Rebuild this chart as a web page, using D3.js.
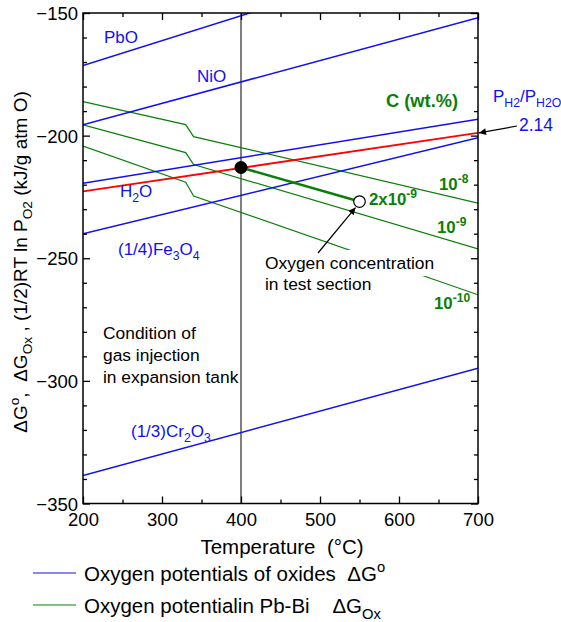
<!DOCTYPE html>
<html>
<head>
<meta charset="utf-8">
<script src="https://cdn.jsdelivr.net/npm/d3@7"></script>
<style>
  body { margin: 0; background: #fff; }
  svg { font-family: "Liberation Sans", Arial, Helvetica, sans-serif; }
  text { white-space: pre; }
</style>
</head>
<body>
<svg width="561" height="622"></svg>
<script>
// ---- data ----
const oxideNames = ["PbO", "NiO", "H2O", "(1/4)Fe3O4", "(1/3)Cr2O3"]
const oxideTemps = [200, 700]
const oxideAt200 = [-171.4, -195.6, -219.4, -240.0, -338.6]
const oxideAt700 = [-120.7, -151.9, -193.3, -200.9, -294.8]

// H2/H2O = 2.14 line
const ratioLine = [[200, -222.7], [700, -198.9]]

// oxygen potential in Pb-Bi, one line per concentration
const concLabels = ["10-8", "10-9", "10-10"]
const concTemps = [200, 330, 340, 700]
const conc8 = [-186.1, -195.5, -200.4, -227.5]
const conc9 = [-195.6, -206.9, -211.8, -246.2]
const conc10 = [-204.3, -219.0, -224.6, -264.9]

// gas injection point and test section point
const injection = [400, -213.0]
const testSection = [550, -226.9]

const xTicks = [200, 300, 400, 500, 600, 700]
const yTicks = [-350, -300, -250, -200, -150]

const svg = d3.select("svg")

const x = d3.scaleLinear().domain([200, 700]).range([83, 478])
const y = d3.scaleLinear().domain([-350, -150]).range([503.5, 13])

const blue = "#1010f0"
const green = "#0a800a"
const red = "#ff0000"
const font = "Liberation Sans, Arial, sans-serif"

// arrow head
svg.append("defs").append("marker")
  .attr("id", "arr")
  .attr("viewBox", "0 0 10 10")
  .attr("refX", 10).attr("refY", 5)
  .attr("markerWidth", 11).attr("markerHeight", 7)
  .attr("markerUnits", "userSpaceOnUse")
  .attr("orient", "auto")
  .append("path").attr("d", "M0,0 L10,5 L0,10 z").attr("fill", "#000")

svg.select("defs").append("clipPath").attr("id", "plot")
  .append("rect")
  .attr("x", x(200)).attr("y", y(-150))
  .attr("width", x(700) - x(200)).attr("height", y(-350) - y(-150))

// rich text helper: parts = [[text, "sup" | "sub" | ""], ...]
function rich(parent, px, py, parts, size, attrs) {
  const t = parent.append("text").attr("x", px).attr("y", py).attr("font-size", size)
  Object.entries(attrs || {}).forEach(([k, v]) => t.attr(k, v))
  let shift = 0
  parts.forEach(([s, mode]) => {
    let target = 0
    if (mode === "sup") target = -0.42 * size
    if (mode === "sub") target = 0.28 * size
    const ts = t.append("tspan").text(s).attr("dy", target - shift)
    if (mode) ts.attr("font-size", size * 0.72)
    shift = target
  })
  return t
}

const plot = svg.append("g").attr("clip-path", "url(#plot)")
const line = d3.line().x(d => x(d[0])).y(d => y(d[1]))

// vertical line at 400 C
plot.append("line")
  .attr("x1", x(400)).attr("x2", x(400))
  .attr("y1", y(-150)).attr("y2", y(-350))
  .attr("stroke", "#000").attr("stroke-width", 1)

// green concentration lines
const concSeries = [conc8, conc9, conc10].map(vals => vals.map((v, i) => [concTemps[i], v]))
plot.selectAll("path.conc")
  .data(concSeries)
  .enter()
  .append("path")
  .attr("class", "conc")
  .attr("d", line)
  .attr("fill", "none")
  .attr("stroke", green)
  .attr("stroke-width", 1.2)

// blue oxide lines
const oxideSeries = oxideNames.map((n, i) => [[oxideTemps[0], oxideAt200[i]], [oxideTemps[1], oxideAt700[i]]])
plot.selectAll("path.oxide")
  .data(oxideSeries)
  .enter()
  .append("path")
  .attr("class", "oxide")
  .attr("d", line)
  .attr("fill", "none")
  .attr("stroke", blue)
  .attr("stroke-width", 1.5)

// red H2/H2O line
plot.append("path")
  .attr("d", line(ratioLine))
  .attr("fill", "none")
  .attr("stroke", red)
  .attr("stroke-width", 1.8)

// thick segment from injection to test section
plot.append("path")
  .attr("d", line([injection, testSection]))
  .attr("fill", "none")
  .attr("stroke", green)
  .attr("stroke-width", 2.6)

svg.append("circle")
  .attr("cx", x(injection[0])).attr("cy", y(injection[1]))
  .attr("r", 6.5).attr("fill", "#000")

svg.append("circle")
  .attr("cx", x(testSection[0])).attr("cy", y(testSection[1]))
  .attr("r", 5.8).attr("fill", "#fff").attr("stroke", "#000").attr("stroke-width", 1.2)

// ---- axes ----
const axG = svg.append("g")
function ticks(makeAxis, pos, major, minor, labels) {
  const g = axG.append("g").attr("transform", pos)
    .call(makeAxis().tickValues(minor).tickSize(-4).tickFormat(""))
  g.select(".domain").remove()
  const g2 = axG.append("g").attr("transform", pos)
    .call(makeAxis().tickValues(major).tickSize(-7).tickFormat(labels ? d3.format("d") : ""))
  g2.select(".domain").remove()
  g.selectAll("line").attr("stroke-width", 1.3)
  g2.selectAll("line").attr("stroke-width", 1.3)
  g2.attr("font-family", font).attr("font-size", 18.5)
  g2.selectAll("text").attr("fill", "#000")
  return g2
}
const xMinor = d3.range(250, 700, 100)
const yMinor = d3.range(-340, -150, 10).filter(v => v % 50 !== 0)

const gb = ticks(() => d3.axisBottom(x), `translate(0,${y(-350)})`, xTicks, xMinor, true)
gb.selectAll("text").attr("dy", 0).attr("y", 22)
ticks(() => d3.axisTop(x), `translate(0,${y(-150)})`, xTicks, xMinor, false)
const gl = ticks(() => d3.axisLeft(y), `translate(${x(200)},0)`, yTicks, yMinor, true)
gl.selectAll("text").attr("x", -5).attr("dy", "0.36em")
ticks(() => d3.axisRight(y), `translate(${x(700)},0)`, yTicks, yMinor, false)

svg.append("rect")
  .attr("x", x(200)).attr("y", y(-150))
  .attr("width", x(700) - x(200)).attr("height", y(-350) - y(-150))
  .attr("fill", "none").attr("stroke", "#000").attr("stroke-width", 1.5)

// axis titles
svg.append("text")
  .attr("x", 282).attr("y", 554)
  .attr("text-anchor", "middle").attr("font-size", 20.5)
  .text("Temperature  (°C)")

const yl = svg.append("g").attr("transform", "translate(27,262) rotate(-90)")
rich(yl, 0, 0, [["ΔG", ""], ["o", "sup"], [",  ΔG", ""], ["Ox", "sub"], [" , (1/2)RT ln P", ""], ["O2", "sub"], [" (kJ/g atm O)", ""]], 19, { "text-anchor": "middle" })

// ---- labels inside plot ----
const lb = svg.append("g").attr("fill", blue)
rich(lb, 104, 43, [["PbO", ""]], 17)
rich(lb, 197, 82, [["NiO", ""]], 17)
rich(lb, 120, 197, [["H", ""], ["2", "sub"], ["O", ""]], 17)
rich(lb, 118, 255, [["(1/4)Fe", ""], ["3", "sub"], ["O", ""], ["4", "sub"]], 17)
rich(lb, 131, 437, [["(1/3)Cr", ""], ["2", "sub"], ["O", ""], ["3", "sub"]], 17)
rich(lb, 493, 102, [["P", ""], ["H2", "sub"], ["/P", ""], ["H2O", "sub"]], 17)
rich(lb, 519, 131, [["2.14", ""]], 17.5)

const lg = svg.append("g").attr("fill", green).attr("font-weight", "bold")
rich(lg, 386, 107, [["C (wt.%)", ""]], 18.3)
rich(lg, 439, 190, [["10", ""], ["-8", "sup"]], 16.8)
rich(lg, 369, 205, [["2x10", ""], ["-9", "sup"]], 16.8)
rich(lg, 437, 233, [["10", ""], ["-9", "sup"]], 16.8)
rich(lg, 434, 309, [["10", ""], ["-10", "sup"]], 16.8)

// black notes
const note = svg.append("g").attr("fill", "#000").attr("font-size", 17.4)
const oc = note.append("text").attr("x", 265).attr("y", 269).text("Oxygen concentration")
const bb = oc.node().getBBox()
note.insert("rect", "text")
  .attr("x", bb.x - 2).attr("y", bb.y - 3)
  .attr("width", bb.width + 4).attr("height", bb.height + 6)
  .attr("fill", "#fff")
note.append("text").attr("x", 265).attr("y", 290).text("in test section")
note.append("text").attr("x", 103).attr("y", 339).text("Condition of")
note.append("text").attr("x", 103).attr("y", 361).text("gas injection")
note.append("text").attr("x", 103).attr("y", 383).text("in expansion tank")

// arrows
svg.append("line")
  .attr("x1", 517).attr("y1", 126).attr("x2", x(700) + 1).attr("y2", y(ratioLine[1][1]))
  .attr("stroke", "#000").attr("stroke-width", 1.2).attr("marker-end", "url(#arr)")
svg.append("line")
  .attr("x1", 318).attr("y1", 253).attr("x2", x(testSection[0]) - 4).attr("y2", y(testSection[1]) + 6)
  .attr("stroke", "#000").attr("stroke-width", 1.2).attr("marker-end", "url(#arr)")

// ---- legend ----
const leg = svg.append("g")
leg.append("line").attr("x1", 33).attr("x2", 76).attr("y1", 573).attr("y2", 573).attr("stroke", blue).attr("stroke-width", 1.2)
rich(leg, 84, 581, [["Oxygen potentials of oxides  ΔG", ""], ["o", "sup"]], 20.5)
leg.append("line").attr("x1", 33).attr("x2", 76).attr("y1", 605).attr("y2", 605).attr("stroke", green).attr("stroke-width", 1.2)
rich(leg, 84, 613, [["Oxygen potentialin Pb-Bi    ΔG", ""], ["Ox", "sub"]], 20.5)
</script>
</body>
</html>
